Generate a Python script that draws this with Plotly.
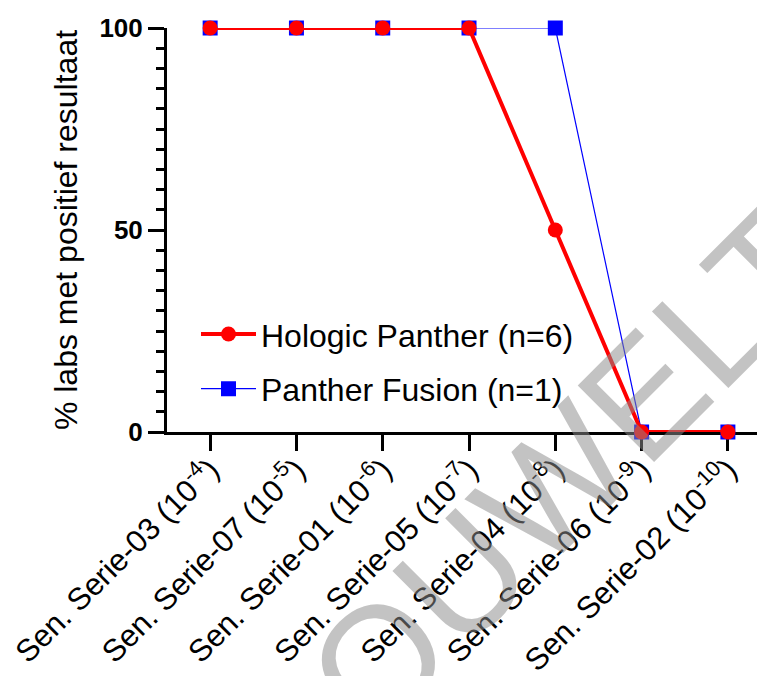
import plotly.graph_objects as go

categories = ["Sen. Serie-03 (10<sup>-4</sup>)", "Sen. Serie-07 (10<sup>-5</sup>)",
              "Sen. Serie-01 (10<sup>-6</sup>)", "Sen. Serie-05 (10<sup>-7</sup>)",
              "Sen. Serie-04 (10<sup>-8</sup>)", "Sen. Serie-06 (10<sup>-9</sup>)",
              "Sen. Serie-02 (10<sup>-10</sup>)"]
hologic = [100, 100, 100, 100, 50, 0, 0]
fusion = [100, 100, 100, 100, 100, 0, 0]
y_ticks = [0, 50, 100]

FONT = "Arial, Liberation Sans, sans-serif"
xi = list(range(len(categories)))

fig = go.Figure()
fig.add_trace(go.Scatter(x=xi, y=fusion, mode="lines+markers", name="Panther Fusion (n=1)",
                         line=dict(color="#0000ff", width=1.2),
                         marker=dict(symbol="square", size=15, color="#0000ff"),
                         cliponaxis=False, legendgroup="b", legendrank=2))
fig.add_trace(go.Scatter(x=xi, y=hologic, mode="lines+markers", name="Hologic Panther (n=6)",
                         line=dict(color="#ff0000", width=4),
                         marker=dict(symbol="circle", size=15, color="#ff0000"),
                         cliponaxis=False, legendgroup="a", legendrank=1))

fig.update_layout(
    width=757, height=668,
    margin=dict(l=159, r=0, t=20, b=244),
    plot_bgcolor="white", paper_bgcolor="white",
    font=dict(family=FONT, color="black"),
    showlegend=True,
    legend=dict(x=0.0485, y=0.31, xanchor="left", yanchor="top",
                traceorder="grouped", tracegroupgap=10, itemwidth=55,
                font=dict(size=32, family=FONT, color="black"),
                bgcolor="rgba(0,0,0,0)"),
    xaxis=dict(range=[-0.5, 6.43], tickmode="array", tickvals=xi, ticktext=categories,
               tickangle=-45, tickfont=dict(size=31, family=FONT), automargin=False,
               ticklabeloverflow="allow", ticklabelstandoff=-12,
               showline=True, linecolor="black", linewidth=3, layer="below traces",
               ticks="outside", ticklen=16, tickwidth=3, tickcolor="black",
               showgrid=False, zeroline=False),
    yaxis=dict(range=[0, 100], tickmode="array", tickvals=y_ticks, automargin=False,
               tickfont=dict(size=26, family=FONT, weight="bold"),
               showline=True, linecolor="black", linewidth=3, layer="below traces",
               ticks="outside", ticklen=16, tickwidth=3, tickcolor="black",
               minor=dict(dtick=5, ticks="outside", ticklen=8, tickwidth=3, tickcolor="black",
                          showgrid=False),
               showgrid=False, zeroline=False,
               title=dict(text="% labs met positief resultaat", standoff=13,
                          font=dict(size=32, family=FONT))),
)

fig.add_annotation(text="OUWELT", xref="paper", yref="paper", x=0.672, y=-0.0965,
                   xanchor="center", yanchor="middle", textangle=-45, showarrow=False,
                   font=dict(size=157, family=FONT, color="rgba(140,140,140,0.52)"))

fig.write_html("out.html")
